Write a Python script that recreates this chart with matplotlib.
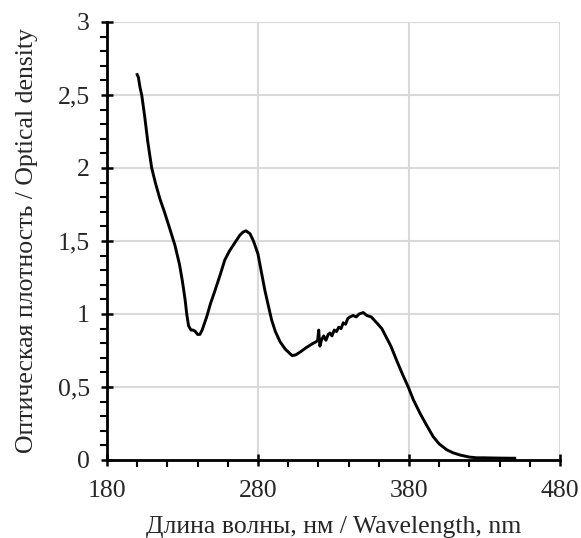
import numpy as np
import matplotlib
matplotlib.use("Agg")
import matplotlib.pyplot as plt
from matplotlib.ticker import MultipleLocator, FixedLocator, FuncFormatter

# spectrum
wl = [200, 200.8, 201.9, 203, 205, 207, 209.6, 212, 215, 218, 221.7, 225, 228, 230,
      231.7, 232.8, 234, 235.6, 237, 238.5, 240, 241.5, 243, 246, 248.5, 251.5, 255,
      258, 261, 264.8, 268, 270, 272, 274.7, 277, 280, 282, 284.6, 287, 289, 291.5,
      294.6, 298, 301, 302.7, 305, 308, 312, 316.6, 318.5, 319.5, 320.2, 320.6, 321,
      322, 323.5, 325, 326.5, 327.7, 329, 330.5, 332, 333.5, 335, 336.5, 338, 339.5,
      341, 343, 345, 347, 349.7, 352, 355, 358.6, 362, 365, 368, 371.9, 376, 379.5,
      383, 387.3, 391, 396, 400, 405, 409, 413.8, 420, 425, 430, 440, 450]
od = [2.64, 2.62, 2.55, 2.5, 2.35, 2.18, 2.0, 1.9, 1.79, 1.7, 1.58, 1.47, 1.34, 1.22,
      1.1, 1.0, 0.92, 0.89, 0.89, 0.88, 0.86, 0.86, 0.89, 0.98, 1.07, 1.16, 1.27,
      1.37, 1.43, 1.49, 1.54, 1.56, 1.57, 1.55, 1.50, 1.41, 1.30, 1.16, 1.05, 0.96, 0.88,
      0.81, 0.76, 0.73, 0.715, 0.72, 0.74, 0.77, 0.80, 0.81, 0.82, 0.89, 0.83, 0.78,
      0.82, 0.85, 0.82, 0.86, 0.87, 0.85, 0.89, 0.88, 0.91, 0.90, 0.94, 0.93, 0.97,
      0.98, 0.99, 0.98, 1.0, 1.01, 0.99, 0.98, 0.94, 0.90, 0.84, 0.78, 0.68, 0.58, 0.50,
      0.41, 0.32, 0.25, 0.16, 0.11, 0.07, 0.05, 0.034, 0.02, 0.015, 0.015, 0.013, 0.012]

xticks = [180, 280, 380, 480]
yticks = [0, 0.5, 1, 1.5, 2, 2.5, 3]

plt.rcParams['font.family'] = ['Liberation Serif', 'DejaVu Serif']

fig = plt.figure(figsize=(5.81, 5.38), dpi=100)
ax = fig.add_axes([107/581, 78/538, 453/581, 438/538])

ax.plot(wl, od, color='black', lw=2.1)

ax.set_xlim(180, 480)
ax.set_ylim(0, 3)
ax.xaxis.set_major_locator(FixedLocator(xticks))
ax.xaxis.set_minor_locator(MultipleLocator(20))
ax.yaxis.set_major_locator(FixedLocator(yticks))
ax.yaxis.set_minor_locator(MultipleLocator(0.1))
ax.yaxis.set_major_formatter(FuncFormatter(lambda v, p: '{:g}'.format(v).replace('.', ',')))

ax.grid(True, which='major', color='#d9d9d9', lw=1.5)
ax.set_axisbelow(True)
for s in ['top', 'right']:
    ax.spines[s].set_visible(False)
for s in ['left', 'bottom']:
    ax.spines[s].set_linewidth(2)
ax.tick_params(which='major', direction='inout', length=9, width=1.8, colors='black',
               labelcolor='#262626', labelsize=18.5)
ax.tick_params(which='minor', direction='out', length=5, width=1.5, colors='black')
ax.tick_params(axis='x', pad=10)
ax.tick_params(axis='y', pad=8)

ax.set_xlabel('Длина волны, нм / Wavelength, nm', color='#262626', fontsize=18.5, labelpad=10)
ax.set_ylabel('Оптическая плотность / Optical density', color='#262626', fontsize=18.5, labelpad=14)

fig.savefig('out.png', dpi=100)
